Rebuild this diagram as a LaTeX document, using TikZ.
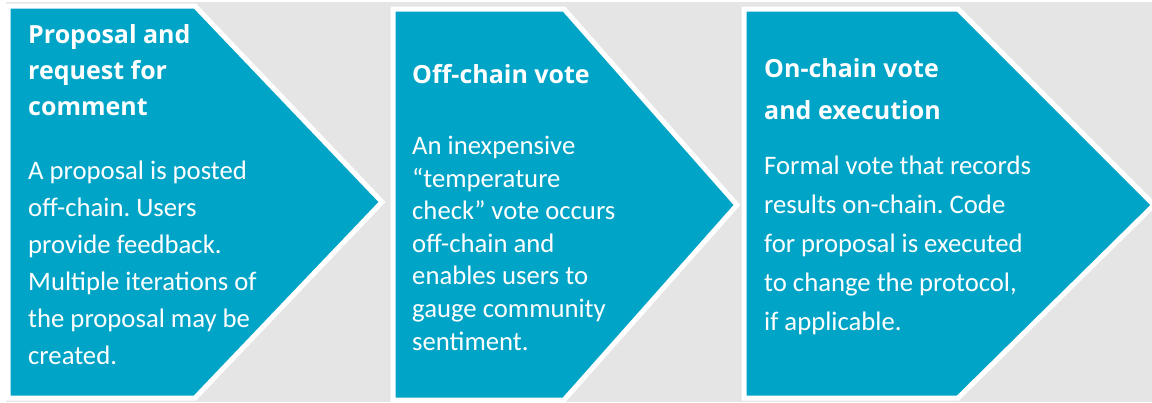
\documentclass[tikz,border=0pt]{standalone}
\usepackage{fontspec}
\setmainfont{Carlito}
\newfontfamily\headfont{Open Sans}[UprightFont=* Bold]
\definecolor{teal1}{RGB}{0,164,199}
\definecolor{bggray}{RGB}{229,229,229}
\frenchspacing
\begin{document}
\begin{tikzpicture}[x=1pt,y=-1pt,
  chev/.style={fill=teal1,draw=white,line width=5pt,line join=miter},
  head/.style={text=white,anchor=base west,inner sep=0pt,align=left,font=\headfont\fontsize{25}{36}\selectfont},
  body/.style={text=white,anchor=base west,inner sep=0pt,align=left,font=\frenchspacing\fontsize{26.7}{37}\selectfont}]
\useasboundingbox (0,0) rectangle (1152,402);
\fill[white] (0,0) rectangle (1152,402);
\fill[bggray] (6,2) rectangle (1152,402);
% chevrons
\path[chev] (8,6) -- (195,6) -- (382,202) -- (195,398) -- (8,398) -- cycle;
\path[chev] (393,9) -- (564,9) -- (737,205) -- (564,400) -- (393,400) -- cycle;
\path[chev] (744,9) -- (958,9) -- (1154,205) -- (958,398) -- (744,398) -- cycle;
% texts (anchored at the baseline of the last line)
\node[head] (h1) at (28,115) {Proposal and\\request for\\comment};
\node[body] (b1) at (28,364) {A proposal is posted\\off-chain. Users\\provide feedback.\\Multiple iterations of\\the proposal may be\\created.};
\node[head] (h2) at (412,83) {Off-chain vote};
\node[body,font=\frenchspacing\fontsize{26.7}{32.6}\selectfont] (b2) at (412,350) {An inexpensive\\“temperature\\check” vote occurs\\off-chain and\\enables users to\\gauge community\\sentiment.};
\node[head,font=\headfont\fontsize{25}{42}\selectfont] (h3) at (764,119) {On-chain vote\\and execution};
\node[body,font=\frenchspacing\fontsize{26.7}{38.8}\selectfont] (b3) at (764,330) {Formal vote that records\\results on-chain. Code\\for proposal is executed\\to change the protocol,\\if applicable.};
\end{tikzpicture}
\end{document}
